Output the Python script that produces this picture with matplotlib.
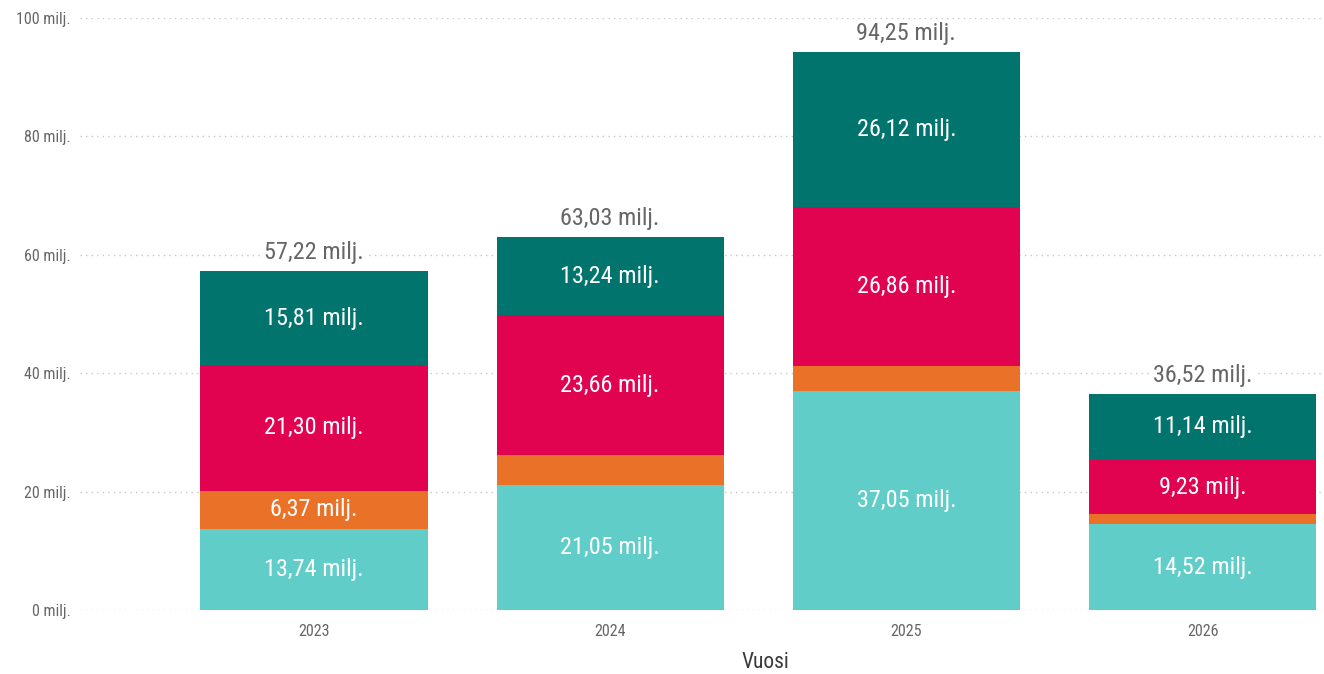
import matplotlib
matplotlib.use("Agg")
import matplotlib.pyplot as plt
import numpy as np

years = ["2023", "2024", "2025", "2026"]
light_teal = [13.74, 21.05, 37.05, 14.52]
orange = [6.37, 5.08, 4.22, 1.63]
red = [21.30, 23.66, 26.86, 9.23]
dark_teal = [15.81, 13.24, 26.12, 11.14]
yticks = [0, 20, 40, 60, 80, 100]

series = [light_teal, orange, red, dark_teal]
colors = ["#60CDC8", "#EA7228", "#E1034F", "#01756D"]

FONT = ["Roboto Condensed", "Liberation Sans Narrow", "Open Sans", "DejaVu Sans"]
plt.rcParams['font.family'] = FONT

fig = plt.figure(figsize=(13.24, 6.74), dpi=100)
ax = fig.add_axes([80/1324, (674-610)/674, 1 - 80/1324, (610-18)/674])

x = np.arange(len(years))
bottom = np.zeros(len(years))
for vals, c in zip(series, colors):
    vals = np.array(vals)
    ax.bar(x, vals, bottom=bottom, width=0.767, color=c, zorder=3, linewidth=0)
    for xi, b, v in zip(x, bottom, vals):
        if v >= 6:
            ax.text(xi, b + v / 2, f"{v:.2f}".replace(".", ",") + " milj.",
                    ha="center", va="center", color="white", fontsize=17.5, zorder=4)
    bottom = bottom + vals

for xi, t in zip(x, bottom):
    ax.text(xi, t + 1.2, f"{t:.2f}".replace(".", ",") + " milj.", ha="center", va="bottom",
            color="#666666", fontsize=17.5, zorder=4,
            bbox=dict(facecolor="white", edgecolor="none", pad=1))

ax.set_xlim(-0.79, 3.41)
ax.set_ylim(0, 100)
ax.set_yticks(yticks)
ax.set_yticklabels([f"{v} milj." for v in yticks], color="#666666", fontsize=11.5)
ax.set_xticks(x)
ax.set_xticklabels(years, color="#666666", fontsize=11.5)
ax.tick_params(axis="both", length=0)
ax.tick_params(axis="y", pad=7)
ax.tick_params(axis="x", pad=10)
ax.grid(axis="y", color="#C8C8C8", linestyle=(0, (1, 3)), linewidth=1, zorder=0)
for s in ax.spines.values():
    s.set_visible(False)
ax.set_xlabel("Vuosi", fontsize=15.5, color="#3A3A3A")
ax.xaxis.set_label_coords((765 - 80) / 1244, -(663 - 610) / 592, transform=ax.transAxes)
ax.xaxis.label.set_va("center")

fig.savefig("out.png", dpi=100)
